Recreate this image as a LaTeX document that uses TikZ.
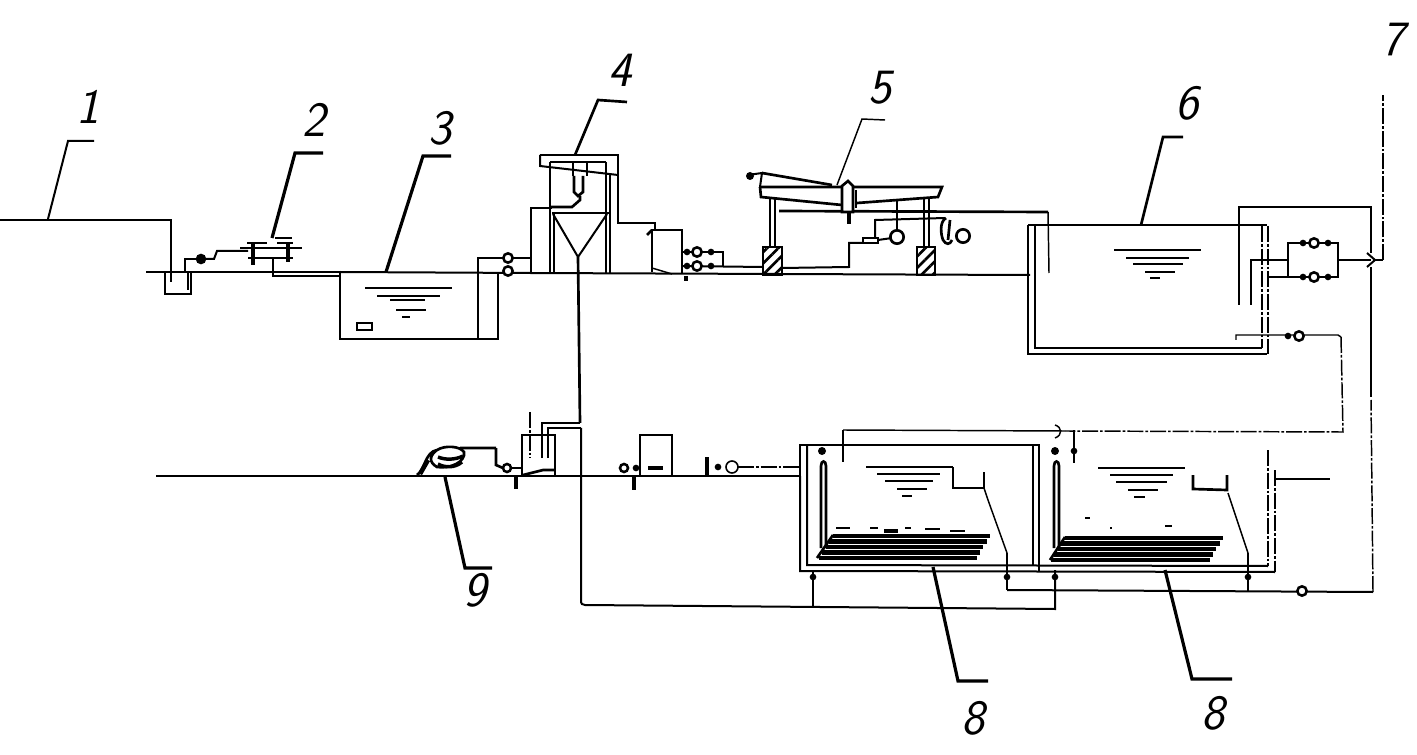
\documentclass[tikz,border=0pt]{standalone}
\usetikzlibrary{patterns.meta}
\tikzset{every picture/.style={line width=1.5pt},
  thinline/.style={line width=1.1pt},
  boldline/.style={line width=2pt},
  leaderline/.style={line width=2.4pt},
  dashline/.style={line width=1.1pt,dash pattern={on 12pt off 1.5pt on 2pt off 1.5pt}},
  valve/.style={circle,draw,line width=1.9pt,fill=white,minimum size=7pt,inner sep=0pt},
  valvedot/.style={circle,fill=black,minimum size=5pt,inner sep=0pt},
  pumpcirc/.style={circle,draw,line width=2pt,fill=white,minimum size=10pt,inner sep=0pt},
  numlabel/.style={font=\fontsize{37}{37}\selectfont\sffamily\itshape,inner sep=0pt},
  hatchblock/.style={draw,boldline,pattern={Lines[angle=45,distance=6pt,line width=2pt]}},
}

\begin{document}
\begin{tikzpicture}[x=0.75pt,y=0.75pt,yscale=-1,xscale=1]
\useasboundingbox (0,0) rectangle (1417,755);

%Ground Lines
\draw (0,220) -- (171,220) -- (171,282) ;
\draw (146,272) -- (340,272) ;
\draw (340,272) -- (530,273) -- (1030,275) ;
\draw (156,476) -- (800,476) ;

%Shape: Pit
\draw [boldline] (165,272) -- (165,294) -- (191,294) -- (191,272) ;
\draw (185,272) -- (185,259) -- (196,259) ;
\draw [boldline] (188,273) -- (188,290) ;
\node [valvedot,minimum size=8pt] (pumpa) at (201,259) {};
\draw (206,259) -- (214,259) -- (217,251) -- (248,251) ;

%Shape: Filter
\draw [boldline] (240,248) -- (302,248) (248,258) -- (293,258) ;
\draw [boldline] (247,243) -- (267,243) (277,243) -- (293,243) (275,238) -- (292,238) ;
\draw [leaderline] (253,243) -- (253,265) (288,243) -- (288,262) ;
\draw (273,258) -- (273,276) -- (340,276) ;

%Shape: Tank 3
\draw [boldline] (340,272) -- (340,339) -- (498,339) -- (498,272) ;
\draw (478,339) -- (478,258) -- (530,258) ;
\draw [boldline] (357,323) rectangle (372,330) ;
\foreach \y/\xa/\xb in {288/365/452,296/377/440,300/390/425,310/396/426,317/402/410}
  \draw [thinline] (\xa,\y) -- (\xb,\y) ;
\node [valve] (valvea) at (508,258) {};
\node [valve] (valveb) at (508,271) {};

%Shape: Settler 4
\draw (531,274) -- (531,208) -- (552,208) ;
\draw [boldline] (550,162) -- (550,274) (554,212) -- (554,274) (606,162) -- (606,274) (610,175) -- (610,274) ;
\draw (552,213) -- (610,213) ;
\draw (553,214) -- (578,257) -- (607,214) ;
\draw [boldline] (578,257) -- (580,423) ;
\draw (550,162) -- (606,162) ;
\draw [boldline] (540,155) -- (618,155) -- (618,223) -- (655,223) -- (655,230) ;
\draw (540,155) -- (540,166) -- (618,175) ;
\draw [thinline] (573,162) -- (573,176) (587,162) -- (587,176) ;
\draw [boldline] (574,176) -- (574,192) -- (578,196) -- (583,192) -- (583,176) ;
\draw [boldline] (580,196) -- (580,200) -- (572,207) -- (550,207) ;

%Shape: Box
\draw (652,272) -- (652,230) -- (682,230) -- (682,273) ;
\draw [boldline] (647,235) -- (652,230) ;
\draw [thinline] (652,268) -- (672,274) ;
\draw (683,252) -- (723,252) -- (723,267) ;
\draw (683,266) -- (763,267) ;
\draw [leaderline] (686,276) -- (686,281) ;
\foreach \y/\nm in {252/c,266/d}{
  \node [valvedot] (dot\nm l) at (687,\y) {};
  \node [valve] (valve\nm) at (697,\y) {};
  \node [valvedot] (dot\nm r) at (711,\y) {};
}

%Shape: Trough 5
\draw [boldline] (762,173) -- (832,185) ;
\node [valvedot,minimum size=6pt] (spout) at (750,176) {};
\draw (748,175) -- (762,173) -- (760,187) ;
\draw [boldline] (760,187) -- (942,187) -- (938,197) -- (857,203) ;
\draw [boldline] (760,187) -- (761,197) -- (842,205) ;
\draw [boldline] (779,211) -- (1048,212) ;
\draw [thinline] (1048,212) -- (1049,273) ;
\draw [boldline,fill=white] (842,186) -- (848,181) -- (853,186) -- (853,212) -- (842,212) -- cycle ;
\draw [boldline] (856,190) -- (856,208) ;
\draw [leaderline] (849,212) -- (849,224) ;
\draw [boldline] (770,198) -- (770,247) (775,198) -- (775,247) (924,197) -- (924,247) (929,197) -- (929,247) ;
\draw [hatchblock] (763,247) rectangle (782,275) ;
\draw [hatchblock] (917,247) rectangle (935,275) ;
\draw (782,268) -- (849,267) -- (849,243) -- (863,243) ;
\draw [boldline] (863,238) -- (878,238) -- (878,243) -- (863,243) -- cycle ;
\draw (875,238) -- (875,220) -- (945,218) ;
\draw (878,240) -- (892,238) ;
\draw (897,200) -- (897,232) ;
\node [pumpcirc] (pumpb) at (897,237) {};
\draw [boldline] (946,218) .. controls (939,222) and (941,235) .. (943,240) .. controls (946,245) and (950,245) .. (952,240) (950,220) -- (948,240) ;
\node [pumpcirc] (pumpc) at (963,236) {};

%Shape: Tank 6
\draw (1028,225) -- (1267,225) ;
\draw (1028,225) -- (1028,354) -- (1267,354) ;
\draw (1035,225) -- (1035,348) -- (1262,348) ;
\draw [dashline] (1262,226) -- (1262,348) (1268,226) -- (1268,354) ;
\draw [boldline] (1002,275) -- (1028,275) ;
\draw [boldline] (1239,305) -- (1239,207) -- (1371,207) -- (1371,253) ;
\draw (1371,267) -- (1371,397) ;
\draw (1251,305) -- (1251,260) -- (1288,260) ;
\draw (1288,243) rectangle (1338,277) ;
\draw (1268,277) -- (1288,277) ;
\draw (1338,260) -- (1371,260) ;
\draw (1367,253) -- (1375,260) -- (1367,267) ;
\draw (1375,260) -- (1383,260) ;
\draw [dashline] (1383,260) -- (1383,95) ;
\foreach \y/\nm in {243/e,277/f}{
  \node [valvedot] (dot\nm l) at (1303,\y) {};
  \node [valve] (valve\nm) at (1314,\y) {};
  \node [valvedot] (dot\nm r) at (1328,\y) {};
}
\foreach \y/\xa/\xb in {250/1114/1201,258/1126/1189,264/1133/1183,272/1145/1175,278/1150/1160}
  \draw [thinline] (\xa,\y) -- (\xb,\y) ;
\draw [thinline] (1236,340) -- (1236,335) -- (1338,335) -- (1341,337) ;
\draw [dashline] (1341,337) -- (1343,432) -- (1065,431) ;
\draw [thinline] (1065,431) -- (843,430) ;
\draw [boldline] (843,430) -- (843,462) ;
\node [valvedot] (dotg) at (1288,336) {};
\node [valve] (valveg) at (1299,336) {};
\draw [thinline] (1055,425) .. controls (1062,427) and (1063,435) .. (1055,438) ;
\draw (1074,430) -- (1074,463) ;
\node [valvedot] (dotk) at (1074,451) {};

%Shape: Tank 8
\draw (800,476) -- (800,445) -- (1039,445) -- (1039,571) ;
\draw (800,476) -- (800,571) -- (1275,572) ;
\draw (807,445) -- (807,565) -- (1268,566) ;
\draw (1033,445) -- (1033,566) ;
\draw [dashline] (1268,450) -- (1268,566) (1275,470) -- (1275,572) ;
\draw [boldline] (1275,479) -- (1330,479) ;
\foreach \xa/\nm in {821/m,1054/n}{
  \draw [boldline] (\xa,548) -- (\xa,466) .. controls (\xa,460) and (\xa+5,460) .. (\xa+5,466) -- (\xa+5,548) ;
  \node [valvedot,minimum size=6pt] (dot\nm) at (\xa+1,451) {};
}
\foreach \y/\xa/\xb in {467/866/953,474/877/940,481/885/933,489/897/927,496/902/912,468/1098/1185,475/1110/1173,482/1116/1167,490/1128/1158,497/1134/1145}
  \draw [thinline] (\xa,\y) -- (\xb,\y) ;

%Shape: Aerator grids
\foreach \k in {0,...,4}{
  \draw [line width=3.6pt] (833-\k*3.6,536+\k*5.5) -- (990-\k*3.3,536+\k*5.5) ;
  \draw [line width=3.6pt] (1065-\k*3.6,538+\k*5.5) -- (1223-\k*3.3,538+\k*5.5) ;
}
\draw [boldline] (833,535) -- (817,558) (1065,537) -- (1050,560) ;
\foreach \xa/\xb/\y in {836/850/528,870/878/528,905/911/528,925/940/529,950/965/531,1085/1090/518,1110/1112/528,1165/1172/526}
  \draw [boldline] (\xa,\y) -- (\xb,\y) ;
\draw [line width=3.4pt] (884,531) -- (898,531) ;

%Straight Lines
\draw [boldline] (953,467) -- (953,488) -- (984,488) -- (984,472) ;
\draw [thinline] (984,488) -- (988,500) -- (1007,553) ;
\draw [boldline] (1007,553) -- (1007,590) ;
\draw (1007,590) -- (1373,592) ;
\node [valvedot] (dotp) at (1007,577) {};
\draw [boldline] (1193,475) -- (1193,489) -- (1227,490) -- (1227,475) ;
\draw [thinline] (1228,493) -- (1248,553) ;
\draw [boldline] (1248,553) -- (1248,591) ;
\node [valvedot] (dotq) at (1248,577) {};
\draw [dashline] (1373,592) -- (1371,400) ;
\node [valve] (valveh) at (1302,591) {};
\draw (581,428) -- (581,600) .. controls (581,604) and (582,605) .. (585,605) -- (1055,609) -- (1055,570) ;
\draw (813,606) -- (813,571) ;
\node [valvedot] (dotr) at (813,577) {};
\node [valvedot] (dots) at (1055,577) {};

%Shape: Pump 9
\draw [boldline] (496,448) -- (460,448) (496,448) -- (496,465) -- (503,468) ;
\draw [boldline] (417,475) .. controls (425,470) and (425,452) .. (437,450) (437,450) .. controls (445,445) and (460,446) .. (464,452) .. controls (466,462) and (450,469) .. (437,467) .. controls (428,462) and (430,455) .. (437,450) ;
\draw [line width=2.6pt] (438,457) .. controls (445,460) and (455,460) .. (463,456) (438,464) .. controls (445,468) and (455,468) .. (462,462) ;
\draw [line width=3.4pt] (420,474) -- (428,460) ;
\node [valve,minimum size=6pt] (valvei) at (507,468) {};
\draw (511,468) -- (522,468) ;
\draw [leaderline] (516,477) -- (516,489) ;

%Shape: Dosing boxes
\draw [boldline] (522,476) -- (522,435) -- (555,435) -- (555,476) ;
\draw [boldline] (523,475) -- (543,470) -- (555,470) ;
\draw (542,458) -- (542,423) -- (580,423) ;
\draw (548,458) -- (548,428) -- (581,428) ;
\draw [dashline] (530,412) -- (530,458) ;
\draw [boldline] (640,476) -- (640,435) -- (672,435) -- (672,476) ;
\draw [leaderline] (648,468) -- (663,468) ;
\draw [leaderline] (634,477) -- (634,490) ;
\node [valve,minimum size=6pt] (valvej) at (624,468) {};
\node [valvedot] (dotj) at (636,468) {};
\draw [leaderline] (707,457) -- (707,476) ;
\node [valvedot] (dott) at (718,467) {};
\node [valve,minimum size=9pt,line width=1.2pt] (valvet) at (732,467) {};
\draw [dashline] (738,467) -- (800,467) ;

%Leaders
\draw (48,219) -- (68,141) -- (94,141) ;
\draw [leaderline] (272,238) -- (295,153) -- (323,153) ;
\draw [leaderline] (386,272) -- (423,156) -- (451,156) ;
\draw [boldline] (575,155) -- (598,100) -- (627,102) ;
\draw [thinline] (837,185) -- (862,119) -- (885,120) ;
\draw [boldline] (1141,225) -- (1163,137) -- (1183,137) ;
\draw [leaderline] (933,567) -- (958,681) -- (988,681) ;
\draw [leaderline] (1165,570) -- (1192,679) -- (1232,679) ;
\draw [leaderline] (445,477) -- (465,568) -- (492,568) ;

% Text Node
\node [numlabel] (numa) at (88,107) {1};
\node [numlabel] (numb) at (314,120) {2};
\node [numlabel] (numc) at (440,128) {3};
\node [numlabel] (numd) at (620,70) {4};
\node [numlabel] (nume) at (880,88) {5};
\node [numlabel] (numf) at (1187,103) {6};
\node [numlabel] (numg) at (1393,40) {7};
\node [numlabel] (numh) at (973,718) {8};
\node [numlabel] (numi) at (1213,713) {8};
\node [numlabel] (numj) at (475,590) {9};

\end{tikzpicture}
\end{document}
